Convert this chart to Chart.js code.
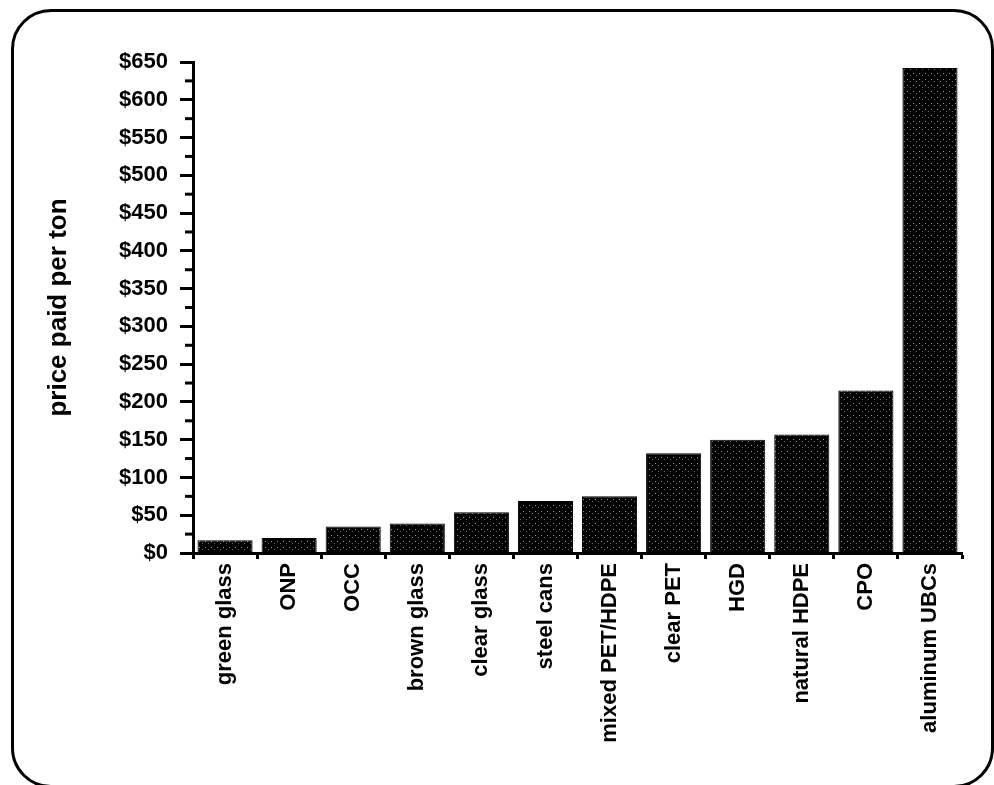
<!DOCTYPE html>
<html>
<head>
<meta charset="utf-8">
<script src="https://cdn.jsdelivr.net/npm/chart.js@4.4.1/dist/chart.umd.min.js"></script>
<style>
    body { margin: 0; background: #fff; }
    #wrap { position: relative; width: 994px; height: 785px; overflow: hidden; }
    #frame {
        position: absolute; left: 11px; top: 9px; width: 977px; height: 773px;
        border: 3px solid #000; border-radius: 40px;
    }
    #chart { position: absolute; left: 0; top: 0; }
</style>
</head>
<body>
<div id="wrap">
    <div id="frame"></div>
    <canvas id="chart" width="994" height="785"></canvas>
</div>
<script>
// data
const categories = ['green glass', 'ONP', 'OCC', 'brown glass', 'clear glass', 'steel cans',
    'mixed PET/HDPE', 'clear PET', 'HGD', 'natural HDPE', 'CPO', 'aluminum UBCs'];
const prices = [17, 20, 35, 39, 54, 69, 75, 132, 150, 157, 215, 642];
const yMax = 650;
const yStep = 50;

const fontFamily = '"Liberation Sans", Arial, Helvetica, sans-serif';

// stippled black fill like the scanned bars
function makePattern() {
    const c = document.createElement('canvas');
    c.width = 6;
    c.height = 6;
    const g = c.getContext('2d');
    g.fillStyle = '#000';
    g.fillRect(0, 0, 6, 6);
    g.fillStyle = '#9a9a9a';
    g.fillRect(1, 1, 1, 1);
    g.fillStyle = '#6a6a6a';
    g.fillRect(4, 3, 1, 1);
    return g.createPattern(c, 'repeat');
}

// short ticks halfway between the labelled ones
const minorTicks = {
    id: 'minorTicks',
    afterDraw(chart) {
        const y = chart.scales.y;
        const ctx = chart.ctx;
        ctx.save();
        ctx.strokeStyle = '#000';
        ctx.lineWidth = 3;
        for (let v = yStep / 2; v < yMax; v += yStep) {
            const py = y.getPixelForValue(v);
            ctx.beginPath();
            ctx.moveTo(y.right - 8, py);
            ctx.lineTo(y.right, py);
            ctx.stroke();
        }
        ctx.restore();
    }
};

document.addEventListener("DOMContentLoaded", function () {
    const ctx = document.getElementById("chart").getContext("2d");

    new Chart(ctx, {
        type: 'bar',
        data: {
            labels: categories,
            datasets: [{
                data: prices,
                backgroundColor: makePattern(),
                borderColor: '#000',
                borderWidth: 1,
                barPercentage: 0.86,
                categoryPercentage: 1
            }]
        },
        options: {
            responsive: false,
            animation: false,
            layout: { padding: { left: 0, top: 62, right: 32, bottom: 0 } },
            plugins: {
                legend: { display: false },
                tooltip: { enabled: false }
            },
            scales: {
                x: {
                    afterFit: (scale) => { scale.height = 232; },
                    grid: {
                        offset: true,
                        drawOnChartArea: false,
                        tickLength: 6,
                        tickWidth: 3,
                        tickColor: '#000'
                    },
                    border: { display: true, color: '#000', width: 3 },
                    ticks: {
                        autoSkip: false,
                        minRotation: 90,
                        maxRotation: 90,
                        padding: 4,
                        color: '#000',
                        font: { family: fontFamily, size: 22, weight: 'bold' }
                    }
                },
                y: {
                    min: 0,
                    max: yMax,
                    afterFit: (scale) => { scale.width = 193; },
                    grid: {
                        drawOnChartArea: false,
                        tickLength: 13,
                        tickWidth: 3,
                        tickColor: '#000'
                    },
                    border: { display: true, color: '#000', width: 3 },
                    ticks: {
                        stepSize: yStep,
                        padding: 12,
                        color: '#000',
                        font: { family: fontFamily, size: 22, weight: 'bold' },
                        callback: (value) => '$' + value
                    },
                    title: {
                        display: true,
                        text: 'price paid per ton',
                        color: '#000',
                        padding: { top: 43 },
                        font: { family: fontFamily, size: 26, weight: 'bold' }
                    }
                }
            }
        },
        plugins: [minorTicks]
    });
});
</script>
</body>
</html>
